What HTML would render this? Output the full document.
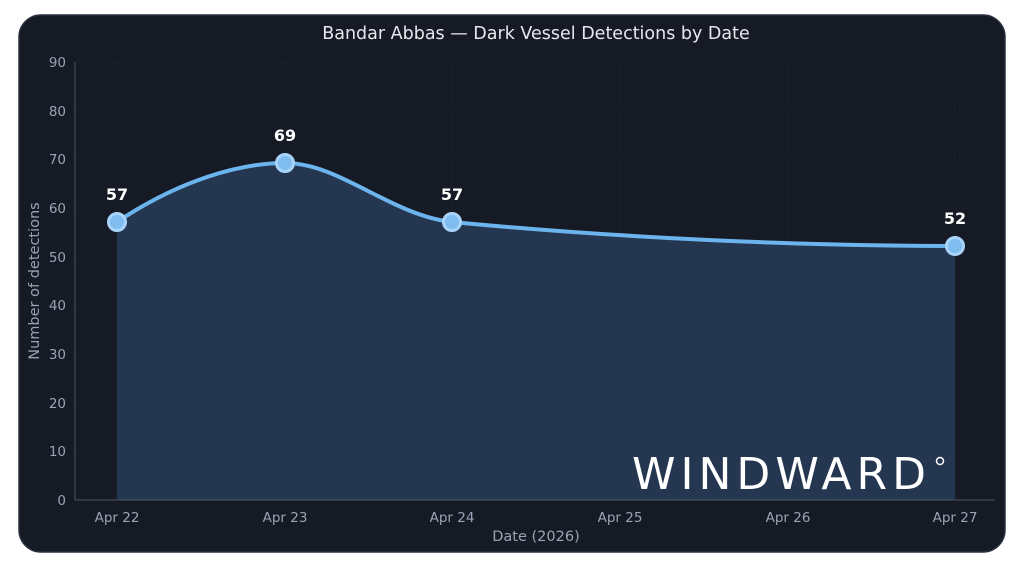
<!DOCTYPE html>
<html><head><meta charset="utf-8"><style>
body{margin:0;background:#fff;width:1024px;height:574px;overflow:hidden;font-family:"Liberation Sans","DejaVu Sans",sans-serif}
</style></head><body>
<svg width="1024" height="574" xmlns="http://www.w3.org/2000/svg" font-family="DejaVu Sans, Liberation Sans, sans-serif">
<rect x="19" y="15" width="986" height="537" rx="22" fill="#161a25" stroke="#2a3040" stroke-width="1.5"/>
<text x="536" y="39" fill="#e6e8ee" font-size="17.5" text-anchor="middle">Bandar Abbas — Dark Vessel Detections by Date</text>
<g stroke="#222a3a" stroke-width="1" stroke-dasharray="1,3">
<line x1="117" y1="62" x2="117" y2="500"/><line x1="285" y1="62" x2="285" y2="500"/><line x1="452" y1="62" x2="452" y2="500"/><line x1="620" y1="62" x2="620" y2="500"/><line x1="788" y1="62" x2="788" y2="500"/><line x1="955" y1="62" x2="955" y2="500"/>
<line x1="75" y1="62" x2="995" y2="62"/><line x1="75" y1="111" x2="995" y2="111"/><line x1="75" y1="159" x2="995" y2="159"/><line x1="75" y1="208" x2="995" y2="208"/><line x1="75" y1="257" x2="995" y2="257"/><line x1="75" y1="305" x2="995" y2="305"/><line x1="75" y1="354" x2="995" y2="354"/><line x1="75" y1="403" x2="995" y2="403"/><line x1="75" y1="451" x2="995" y2="451"/>
</g>
<path d="M117,222 C180,180 240,163 285,163 C340,163 390,215 452,222 C620,238 800,246 955,246 L955,500 L117,500 Z" fill="#253750"/>
<g stroke="#4a5568" stroke-width="1"><line x1="75" y1="62" x2="75" y2="500"/><line x1="75" y1="500" x2="995" y2="500"/></g>
<g fill="#9aa3b5" font-size="13.5" text-anchor="end">
<text x="66" y="67">90</text><text x="66" y="116">80</text><text x="66" y="164">70</text><text x="66" y="213">60</text><text x="66" y="262">50</text><text x="66" y="310">40</text><text x="66" y="359">30</text><text x="66" y="408">20</text><text x="66" y="456">10</text><text x="66" y="505">0</text>
</g>
<g fill="#9aa3b5" font-size="13.5" text-anchor="middle">
<text x="117" y="522">Apr 22</text><text x="285" y="522">Apr 23</text><text x="452" y="522">Apr 24</text><text x="620" y="522">Apr 25</text><text x="788" y="522">Apr 26</text><text x="955" y="522">Apr 27</text>
<text x="536" y="541" font-size="14.5">Date (2026)</text>
</g>
<text transform="translate(39,281) rotate(-90)" fill="#9aa3b5" font-size="14.5" text-anchor="middle">Number of detections</text>
<path d="M117,222 C180,180 240,163 285,163 C340,163 390,215 452,222 C620,238 800,246 955,246" fill="none" stroke="#6cb4ee" stroke-width="4"/>
<g fill="#7fbdf0" stroke="#a8d4fa" stroke-width="3">
<circle cx="117" cy="222" r="8.5"/><circle cx="285" cy="163" r="8.5"/><circle cx="452" cy="222" r="8.5"/><circle cx="955" cy="246" r="8.5"/>
</g>
<g fill="#ffffff" font-size="16" font-weight="bold" text-anchor="middle">
<text x="117" y="200">57</text><text x="285" y="141">69</text><text x="452" y="200">57</text><text x="955" y="224">52</text>
</g>
<text x="632" y="489" fill="#ffffff" font-size="44" font-family="DejaVu Sans, sans-serif" font-weight="normal" textLength="294" lengthAdjust="spacing">WINDWARD</text>
<circle cx="940" cy="461" r="3.5" fill="none" stroke="#fff" stroke-width="1.5"/>
</svg>
</body></html>
